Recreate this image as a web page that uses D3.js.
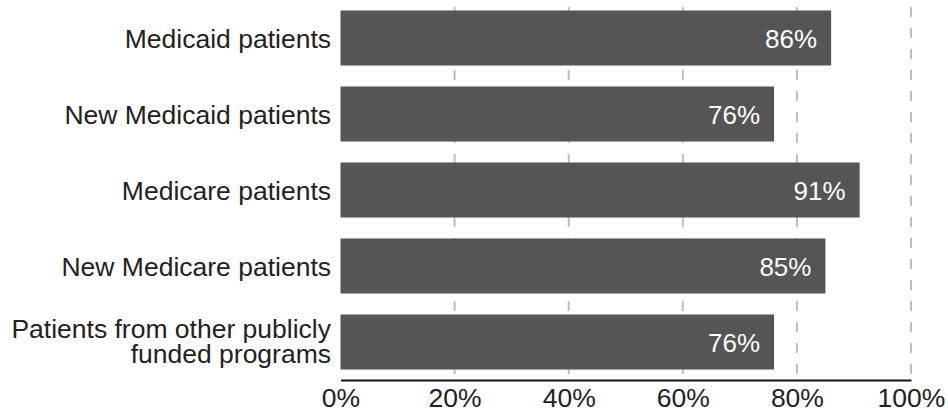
<!DOCTYPE html>
<html lang="en">
  <head>
    <meta charset="UTF-8" />
    <title>Patients accepted</title>
    <style>
      body {
        margin: 0;
        background: #fff;
        font-family: Arial, "Liberation Sans", sans-serif;
      }
      .grid line {
        stroke: #bdbdbd;
        stroke-width: 2;
        stroke-dasharray: 10 11;
      }
      .cat {
        fill: #222;
        font-size: 26.5px;
      }
      .val {
        fill: #fff;
        font-size: 26px;
      }
      .tick-label {
        fill: #222;
        font-size: 26.5px;
      }
    </style>
  </head>
  <body>
    <svg id="chart"></svg>
    <script src="https://d3js.org/d3.v7.min.js"></script>
    <script>
      const categories = [
        ["Medicaid patients"],
        ["New Medicaid patients"],
        ["Medicare patients"],
        ["New Medicare patients"],
        ["Patients from other publicly", "funded programs"],
      ];
      const values = [86, 76, 91, 85, 76];
      const ticks = [0, 20, 40, 60, 80, 100];

      const width = 948;
      const height = 412;
      const svg = d3
        .select("#chart")
        .attr("width", width)
        .attr("height", height);

      const x = d3.scaleLinear().domain([0, 100]).range([340.5, 911]);
      const y = d3
        .scaleBand()
        .domain(d3.range(values.length))
        .range([0, 380])
        .paddingInner(0.276)
        .paddingOuter(0.138);

      // dashed gridlines
      svg
        .append("g")
        .attr("class", "grid")
        .selectAll("line")
        .data(ticks.filter((t) => t > 0))
        .enter()
        .append("line")
        .attr("x1", (d) => x(d))
        .attr("x2", (d) => x(d))
        .attr("y1", 7)
        .attr("y2", 380);

      // bars
      svg
        .selectAll("rect.bar")
        .data(values)
        .enter()
        .append("rect")
        .attr("class", "bar")
        .attr("x", x(0))
        .attr("y", (d, i) => y(i))
        .attr("width", (d) => x(d) - x(0))
        .attr("height", y.bandwidth())
        .attr("fill", "#555555");

      // value labels
      svg
        .selectAll("text.val")
        .data(values)
        .enter()
        .append("text")
        .attr("class", "val")
        .attr("text-anchor", "end")
        .attr("x", (d) => x(d) - 14)
        .attr("y", (d, i) => y(i) + y.bandwidth() / 2 + 9.5)
        .text((d) => d + "%");

      // category labels
      const cat = svg
        .selectAll("text.cat")
        .data(categories)
        .enter()
        .append("text")
        .attr("class", "cat")
        .attr("text-anchor", "end")
        .attr("y", (d, i) => y(i) + y.bandwidth() / 2);
      cat
        .selectAll("tspan")
        .data((d) => d.map((s, j) => ({ s, j, n: d.length })))
        .enter()
        .append("tspan")
        .attr("x", 331)
        .attr("dy", (d) =>
          d.n === 1 ? 10 : d.j === 0 ? -4 : 25
        )
        .text((d) => d.s);

      // x axis
      const axis = d3
        .axisBottom(x)
        .tickValues(ticks)
        .tickFormat((d) => d + "%")
        .tickSize(0)
        .tickPadding(27);
      const gx = svg
        .append("g")
        .attr("transform", "translate(0,380)")
        .call(axis);
      gx.select(".domain").attr("stroke", "#111").attr("stroke-width", 2);
      gx.selectAll("text")
        .attr("class", "tick-label")
        .attr("font-family", null)
        .attr("font-size", null)
        .attr("fill", null)
        .attr("dy", 0);
    </script>
  </body>
</html>
